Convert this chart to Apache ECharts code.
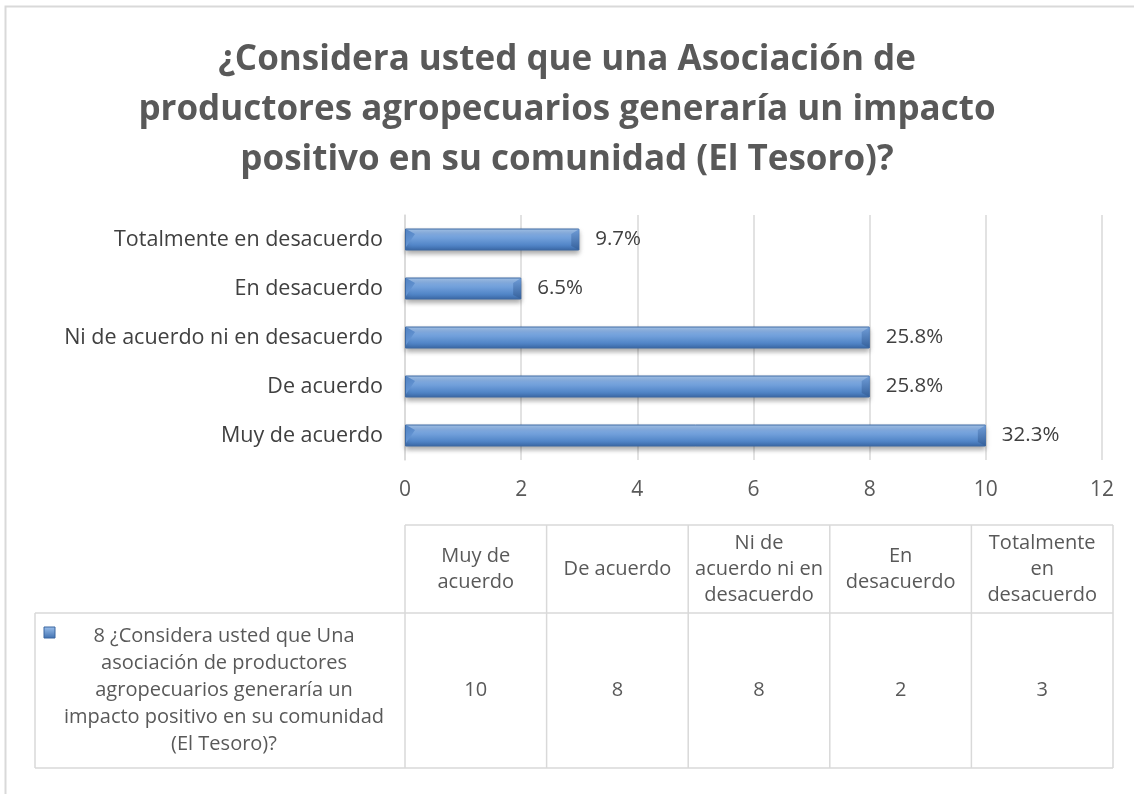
<!DOCTYPE html>
<html>
<head>
<meta charset="utf-8">
<script src="https://cdn.jsdelivr.net/npm/echarts@6/dist/echarts.min.js"></script>
<style>
html,body{margin:0;padding:0;background:#fff;}
#chart{width:1134px;height:794px;}
</style>
</head>
<body>
<div id="chart"></div>
<script>
var titleLines = ['¿Considera usted que una Asociación de', 'productores agropecuarios generaría un impacto', 'positivo en su comunidad (El Tesoro)?'];
var categories = ['Muy de acuerdo', 'De acuerdo', 'Ni de acuerdo ni en desacuerdo', 'En desacuerdo', 'Totalmente en desacuerdo'];
var values = [10, 8, 8, 2, 3];
var percentLabels = ['32.3%', '25.8%', '25.8%', '6.5%', '9.7%'];
var tableHeaders = ['Muy de\nacuerdo', 'De acuerdo', 'Ni de\nacuerdo ni en\ndesacuerdo', 'En\ndesacuerdo', 'Totalmente\nen\ndesacuerdo'];
var seriesName = '8 ¿Considera usted que Una\nasociación de productores\nagropecuarios generaría un\nimpacto positivo en su comunidad\n(El Tesoro)?';
var xTicks = [0, 2, 4, 6, 8, 10, 12];

var FONT = 'Open Sans';
var TXT = '#595959';
var LINE = '#d9d9d9';

var chart = echarts.init(document.getElementById('chart'));

var tLeft = 35, tRight = 1113, colStart = 405, rowTop = 525, rowMid = 613, rowBot = 768;
var colW = (tRight - colStart) / categories.length;

var g = [];
g.push({type:'polyline', shape:{points:[[5.5,800],[5.5,6.5],[1140,6.5]]}, style:{stroke:LINE, lineWidth:2, fill:null}, silent:true});
g.push({type:'text', left:'center', top:35, style:{text:titleLines.join('\n'), font:'bold 35px "'+FONT+'"', fill:TXT, textAlign:'center', lineHeight:50}});
function ln(x1,y1,x2,y2){g.push({type:'line', shape:{x1:x1,y1:y1,x2:x2,y2:y2}, style:{stroke:LINE, lineWidth:1.5}, silent:true});}
ln(colStart, rowTop, tRight, rowTop);
ln(tLeft, rowMid, tRight, rowMid);
ln(tLeft, rowBot, tRight, rowBot);
ln(tLeft, rowMid, tLeft, rowBot);
for (var i = 0; i <= categories.length; i++) {
  var x = colStart + i * colW;
  ln(x, rowTop, x, rowBot);
}
for (var i = 0; i < categories.length; i++) {
  var cx = colStart + (i + 0.5) * colW;
  g.push({type:'text', x:cx, y:(rowTop+rowMid)/2, style:{text:tableHeaders[i], font:'20px "'+FONT+'"', fill:TXT, textAlign:'center', textVerticalAlign:'middle', lineHeight:26}});
  g.push({type:'text', x:cx, y:(rowMid+rowBot)/2, style:{text:String(values[i]), font:'20px "'+FONT+'"', fill:TXT, textAlign:'center', textVerticalAlign:'middle'}});
}
g.push({type:'text', x:224, y:(rowMid+rowBot)/2, style:{text:seriesName, font:'20px "'+FONT+'"', fill:TXT, textAlign:'center', textVerticalAlign:'middle', lineHeight:27}});
g.push({type:'rect', shape:{x:44, y:627, width:11, height:11}, style:{fill:new echarts.graphic.LinearGradient(0,0,0,1,[{offset:0,color:'#9cc0ec'},{offset:1,color:'#3f70b0'}]), stroke:'#3a66a0', lineWidth:1}});

var capData = values.map(function (v, i) { return [v, i]; });

var option = {
  animation: false,
  textStyle: {fontFamily: FONT},
  grid: {left: 405, right: 32, top: 215, bottom: 334, containLabel: false},
  xAxis: {
    type: 'value', min: 0, max: 12, interval: 2,
    axisLine: {show: false}, axisTick: {show: false},
    splitLine: {lineStyle: {color: LINE, width: 1.5}},
    axisLabel: {color: TXT, fontSize: 21, margin: 20, fontFamily: FONT}
  },
  yAxis: {
    type: 'category', data: categories,
    axisLine: {lineStyle: {color: LINE, width: 1.5}}, axisTick: {show: false},
    axisLabel: {color: '#404040', fontSize: 21.5, margin: 22, fontFamily: FONT}
  },
  series: [{
    type: 'bar', data: values, barWidth: 22,
    itemStyle: {
      color: new echarts.graphic.LinearGradient(0, 0, 0, 1, [
        {offset: 0, color: '#a9c8ee'},
        {offset: 0.3, color: '#7eaae2'},
        {offset: 0.75, color: '#5286c8'},
        {offset: 1, color: '#3a68a6'}
      ]),
      borderColor: '#3e6aa4', borderWidth: 1,
      shadowColor: 'rgba(0,0,0,0.35)', shadowBlur: 5, shadowOffsetY: 3
    },
    label: {
      show: true, position: 'right', distance: 16, color: '#404040', fontSize: 20.5, fontFamily: FONT,
      formatter: function (p) { return percentLabels[p.dataIndex]; }
    }
  }, {
    type: 'custom', data: capData, encode: {x: 0, y: 1}, silent: true, z: 3,
    renderItem: function (params, api) {
      var end = api.coord([api.value(0), api.value(1)]);
      var start = api.coord([0, api.value(1)]);
      var h = 10.5, b = 8;
      return {type: 'group', children: [
        {type: 'polygon', shape: {points: [[end[0] - b, end[1] - h + 5], [end[0], end[1] - h], [end[0], end[1] + h], [end[0] - b, end[1] + h - 4]]},
         style: {fill: new echarts.graphic.LinearGradient(0, 0, 0, 1, [{offset: 0, color: '#6c9ad6'}, {offset: 1, color: '#345f99'}]), opacity: 0.9}},
        {type: 'polygon', shape: {points: [[start[0] + 1, end[1] - h], [start[0] + b + 2, end[1] - h + 5], [start[0] + 1, end[1] + h - 3]]},
         style: {fill: new echarts.graphic.LinearGradient(0, 0, 1, 1, [{offset: 0, color: '#4b7dbf'}, {offset: 1, color: '#6f9fdc'}]), opacity: 0.9}}
      ]};
    }
  }],
  graphic: g
};
chart.setOption(option);
</script>
</body>
</html>
